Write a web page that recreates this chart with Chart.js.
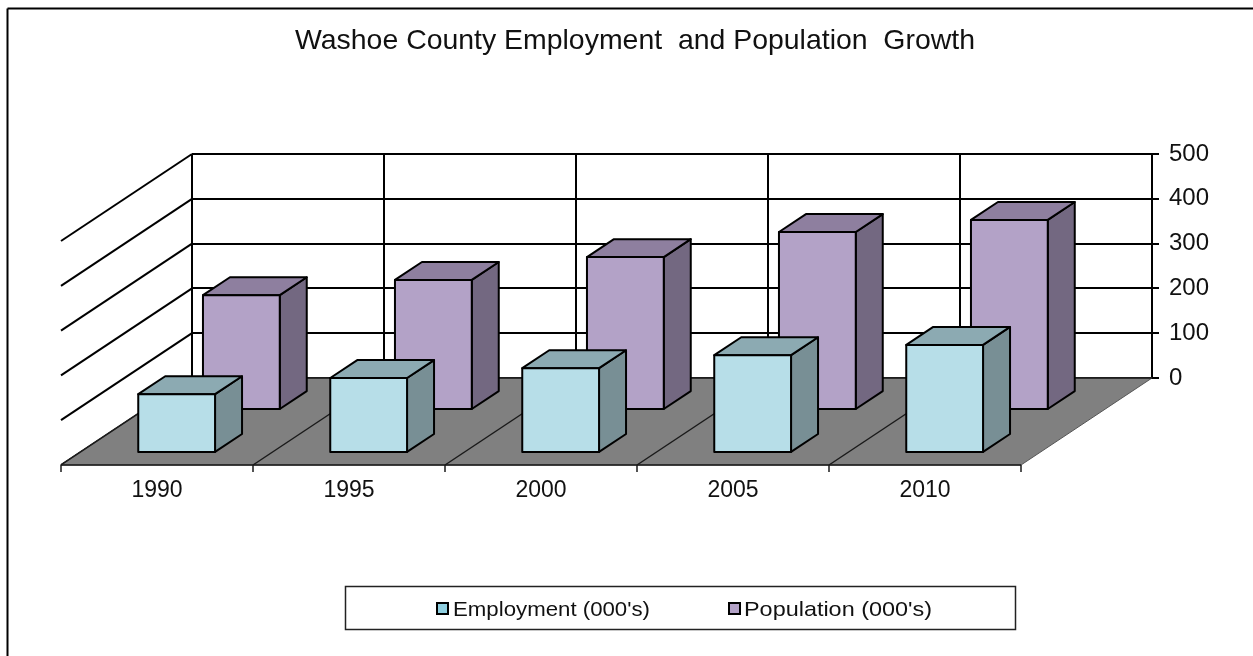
<!DOCTYPE html>
<html>
<head>
<meta charset="utf-8">
<title>Washoe County Employment and Population Growth</title>
<script src="https://cdn.jsdelivr.net/npm/chart.js@4"></script>
<style>
    html, body { margin: 0; padding: 0; background: #fff; }
    canvas { display: block; }
</style>
</head>
<body>
<canvas id="growth-chart" width="1253" height="656"></canvas>
<script>
// Values in thousands
const years = ['1990', '1995', '2000', '2005', '2010'];
const employment = [129, 165, 187, 216, 239];
const population = [254, 288, 339, 395, 422];
const yTicks = [0, 100, 200, 300, 400, 500];

const chartTitle = 'Washoe County Employment  and Population  Growth';
const FONT = '"Liberation Sans", Arial, sans-serif';

// Oblique projection: how far the front of the floor sits from the back wall
const DEPTH_X = -131;
const DEPTH_Y = 87;
const ROW_EMPLOYMENT = 0.85;   // fraction of the way from back wall to front edge
const ROW_POPULATION = 0.356;
const BAR_DEPTH = 0.206;

const colors = {
    employment: { front: '#b7dee8', side: '#788f95', top: '#8caab2' },
    population: { front: '#b3a2c7', side: '#736881', top: '#8e7f9f' },
    floor: '#808080'
};

function line(ctx, x1, y1, x2, y2) {
    ctx.beginPath();
    ctx.moveTo(x1, y1);
    ctx.lineTo(x2, y2);
    ctx.stroke();
}

function poly(ctx, pts, fill) {
    ctx.beginPath();
    pts.forEach((p, i) => i ? ctx.lineTo(p[0], p[1]) : ctx.moveTo(p[0], p[1]));
    ctx.closePath();
    ctx.fillStyle = fill;
    ctx.fill();
    ctx.stroke();
}

// Arial-like text squeezed or widened to a given pixel width
function fitText(ctx, text, left, y, width, size) {
    ctx.save();
    ctx.font = `${size}px ${FONT}`;
    ctx.fillStyle = '#111';
    ctx.textAlign = 'left';
    ctx.textBaseline = 'middle';
    const natural = ctx.measureText(text).width;
    ctx.translate(left, y);
    ctx.scale(width / natural, 1);
    ctx.fillText(text, 0, 0);
    ctx.restore();
}

function drawBox(ctx, el, base, row, c) {
    const sx = DEPTH_X * row;
    const sy = DEPTH_Y * row;
    const dx = -DEPTH_X * BAR_DEPTH;
    const dy = -DEPTH_Y * BAR_DEPTH;
    const l = el.x - el.width / 2 + sx;
    const r = el.x + el.width / 2 + sx;
    const t = el.y + sy;
    const b = base + sy;

    ctx.strokeStyle = '#000';
    ctx.lineWidth = 2;
    ctx.lineJoin = 'round';
    poly(ctx, [[r, t], [r + dx, t + dy], [r + dx, b + dy], [r, b]], c.side);
    poly(ctx, [[l, t], [l + dx, t + dy], [r + dx, t + dy], [r, t]], c.top);
    poly(ctx, [[l, t], [r, t], [r, b], [l, b]], c.front);
}

const wallPlugin = {
    id: 'wall',
    beforeDatasetsDraw(chart) {
        const ctx = chart.ctx;
        const x = chart.scales.x;
        const y = chart.scales.y;
        const area = chart.chartArea;
        const zero = y.getPixelForValue(0);

        ctx.save();
        ctx.strokeStyle = '#000';
        ctx.lineWidth = 2;

        // left wall gridlines run off towards the viewer
        yTicks.forEach(v => {
            const py = y.getPixelForValue(v);
            line(ctx, area.left, py, area.left + DEPTH_X, py + DEPTH_Y);
        });

        // floor
        ctx.lineWidth = 1;
        ctx.strokeStyle = '#555';
        poly(ctx, [
            [area.left, zero],
            [area.right, zero],
            [area.right + DEPTH_X, zero + DEPTH_Y],
            [area.left + DEPTH_X, zero + DEPTH_Y]
        ], colors.floor);

        // floor dividers and front axis ticks
        const band = area.width / years.length;
        ctx.strokeStyle = '#1a1a1a';
        ctx.lineWidth = 1.5;
        for (let i = 0; i <= years.length; i++) {
            const bx = area.left + band * i;
            const fx = bx + DEPTH_X;
            const fy = zero + DEPTH_Y;
            if (i < years.length) line(ctx, bx, zero, fx, fy);
            line(ctx, fx, fy, fx, fy + 7);
        }
        line(ctx, area.left, zero, area.right, zero);
        line(ctx, area.left + DEPTH_X, zero + DEPTH_Y, area.right + DEPTH_X, zero + DEPTH_Y);

        // category labels sit under the front edge
        ctx.font = `23px ${FONT}`;
        ctx.fillStyle = '#111';
        ctx.textAlign = 'center';
        ctx.textBaseline = 'middle';
        years.forEach((label, i) => {
            ctx.fillText(label, x.getPixelForValue(i) + DEPTH_X, 491);
        });
        ctx.restore();
    },
    afterDatasetsDraw(chart) {
        const ctx = chart.ctx;
        const zero = chart.scales.y.getPixelForValue(0);
        ctx.save();
        // back row first so the front row overlaps it
        chart.getDatasetMeta(1).data.forEach(el => drawBox(ctx, el, zero, ROW_POPULATION, colors.population));
        chart.getDatasetMeta(0).data.forEach(el => drawBox(ctx, el, zero, ROW_EMPLOYMENT, colors.employment));
        ctx.restore();
    },
    afterDraw(chart) {
        const ctx = chart.ctx;
        ctx.save();

        // outer frame, top and left only
        ctx.strokeStyle = '#000';
        ctx.lineWidth = 2;
        line(ctx, 7.5, 656, 7.5, 8.5);
        line(ctx, 7.5, 8.5, 1253, 8.5);

        fitText(ctx, chartTitle, 295, 41, 680, 28);

        // legend
        ctx.lineWidth = 1.5;
        ctx.strokeStyle = '#222';
        ctx.strokeRect(345.5, 586.5, 670, 43);
        const swatches = [
            { x: 437, textX: 453, textW: 197, label: chart.data.datasets[0].label, fill: '#8fcfe0' },
            { x: 729, textX: 744, textW: 188, label: chart.data.datasets[1].label, fill: '#b3a2c7' }
        ];
        swatches.forEach(s => {
            ctx.lineWidth = 2;
            ctx.strokeStyle = '#000';
            ctx.fillStyle = s.fill;
            ctx.fillRect(s.x, 603, 11, 11);
            ctx.strokeRect(s.x, 603, 11, 11);
            fitText(ctx, s.label, s.textX, 610, s.textW, 21);
        });
        ctx.restore();
    }
};

function initChart() {
    const ctx = document.getElementById('growth-chart').getContext('2d');
    new Chart(ctx, {
        type: 'bar',
        data: {
            labels: years,
            datasets: [
                { label: "Employment (000's)", data: employment, backgroundColor: 'rgba(0,0,0,0)', grouped: false },
                { label: "Population (000's)", data: population, backgroundColor: 'rgba(0,0,0,0)', grouped: false }
            ]
        },
        options: {
            responsive: false,
            animation: false,
            layout: { padding: { left: 192, top: 154, right: 0, bottom: 278 } },
            datasets: { bar: { categoryPercentage: 1, barPercentage: 0.4 } },
            plugins: { legend: { display: false }, title: { display: false }, tooltip: { enabled: false } },
            scales: {
                x: {
                    offset: true,
                    grid: { color: '#000', lineWidth: 2, drawTicks: false, offset: true },
                    border: { display: false },
                    ticks: { display: false }
                },
                y: {
                    position: 'right',
                    min: 0,
                    max: 500,
                    afterFit: scale => { scale.width = 101; },
                    afterBuildTicks: scale => { scale.ticks = yTicks.map(v => ({ value: v })); },
                    grid: { color: '#000', lineWidth: 2, tickLength: 7 },
                    border: { display: false },
                    ticks: { padding: 10, color: '#111', font: { family: FONT, size: 24 } }
                }
            }
        },
        plugins: [wallPlugin]
    });
}

document.addEventListener('DOMContentLoaded', initChart);
</script>
</body>
</html>
